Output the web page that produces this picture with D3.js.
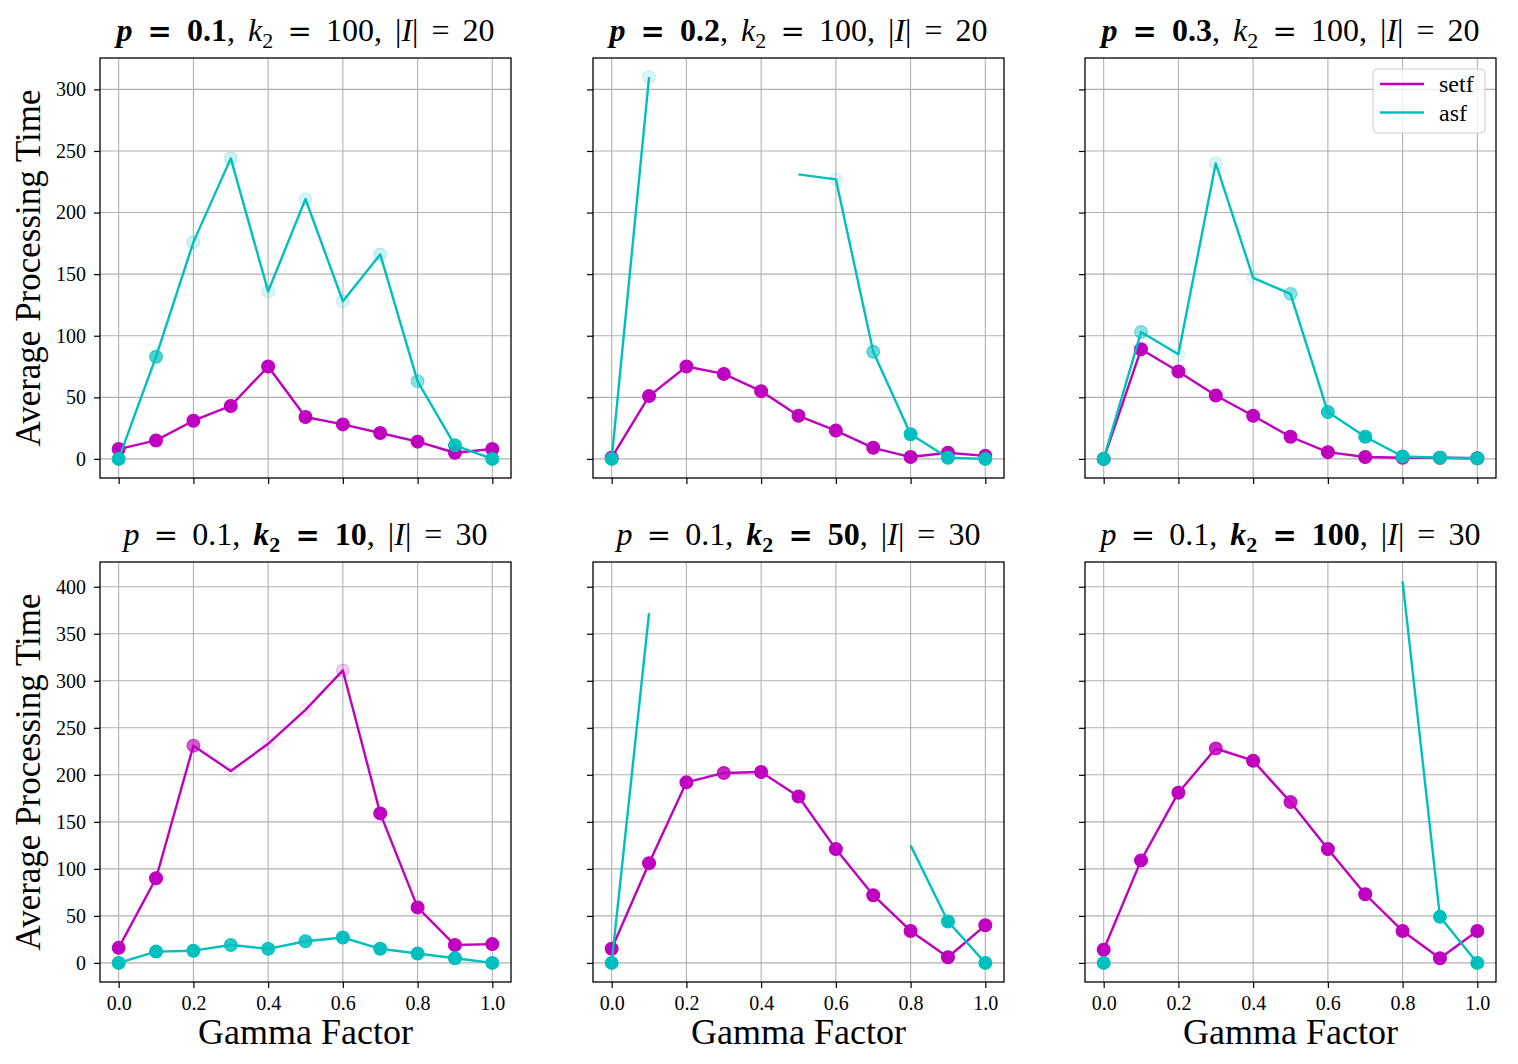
<!DOCTYPE html>
<html>
<head>
<meta charset="utf-8">
<script src="https://cdn.jsdelivr.net/npm/d3@7"></script>
<style>
  body { margin: 0; background: #fff; }
  text { font-family: "Liberation Serif", "DejaVu Serif", serif; fill: #000; }
</style>
</head>
<body>
<svg id="chart" width="1518" height="1064"></svg>
<script>
// valeurs
const gamma = [0.0, 0.1, 0.2, 0.3, 0.4, 0.5, 0.6, 0.7, 0.8, 0.9, 1.0];
const xTicks = [0.0, 0.2, 0.4, 0.6, 0.8, 1.0];
const yTicksTop = [0, 50, 100, 150, 200, 250, 300];
const yTicksBottom = [0, 50, 100, 150, 200, 250, 300, 350, 400];

// ligne du haut : k2 = 100, |I| = 20
const setfP01 = [8, 15, 31, 43, 75, 34, 28, 21, 14, 5, 8];
const asfP01 = [0, 83, 176, 244, 136, 211, 128, 166, 63, 11, 0];
const setfP02 = [1, 51, 75, 69, 55, 35, 23, 9, 1.5, 5, 2.5];
const asfP02 = [0, 310, null, null, null, 231, 227, 87, 20, 1, 0];
const setfP03 = [0, 89, 71, 51.5, 35, 18, 5.5, 1.5, 1, 1, 0.5];
const asfP03 = [0, 103, 85, 240, 147, 134, 38, 18, 2, 1, 0.5];

// ligne du bas : p = 0.1, |I| = 30
const setfK10 = [16, 90, 231, 204, 233, 269, 311, 159, 59, 19, 20];
const asfK10 = [0, 12, 13, 19, 15, 23, 27, 15, 10, 5, 0];
const setfK50 = [15, 106, 192, 202, 203, 177, 121, 72, 34, 6, 40];
const asfK50 = [0, 372, null, null, null, null, null, null, 125, 44, 0];
const setfK100 = [14, 109, 181, 228, 215, 171, 121, 73, 34, 5, 34];
const asfK100 = [0, null, null, null, null, null, null, null, 406, 49, 0];

// part des runs terminés (transparence des points)
const setfDoneP01 = [1, 1, 1, 1, 1, 1, 1, 1, 1, 1, 1];
const asfDoneP01 = [1, 0.7, 0.2, 0.2, 0.15, 0.15, 0.15, 0.2, 0.45, 0.9, 1];
const setfDoneP02 = [1, 1, 1, 1, 1, 1, 1, 1, 1, 1, 1];
const asfDoneP02 = [1, 0.15, 0, 0, 0, 0, 0.12, 0.6, 1, 1, 1];
const setfDoneP03 = [1, 1, 1, 1, 1, 1, 1, 1, 1, 1, 1];
const asfDoneP03 = [1, 0.45, 0.1, 0.15, 0.1, 0.45, 0.85, 1, 1, 1, 1];
const setfDoneK10 = [1, 1, 0.65, 0.05, 0.08, 0.08, 0.2, 1, 1, 1, 1];
const asfDoneK10 = [1, 1, 1, 0.85, 0.9, 0.85, 1, 1, 1, 1, 1];
const setfDoneK50 = [1, 1, 1, 0.85, 1, 1, 1, 1, 1, 1, 1];
const asfDoneK50 = [1, 0.03, 0, 0, 0, 0, 0, 0, 0, 1, 1];
const setfDoneK100 = [1, 1, 1, 0.85, 1, 0.9, 1, 1, 1, 1, 1];
const asfDoneK100 = [1, 0, 0, 0, 0, 0, 0, 0, 0, 1, 1];

const seriesNames = ["setf", "asf"];
const couleurs = { setf: "#bf00bf", asf: "#00bfbf" };

// titres : [texte, gras, italique, indice]
const titres = [
  [["p", 1, 1], [" = ", 1, 0], ["0.1", 1, 0], [", ", 0, 0], ["k", 0, 1], ["2", 0, 0, 1], [" = ", 0, 0], ["100, |", 0, 0], ["I", 0, 1], ["| = ", 0, 0], ["20", 0, 0]],
  [["p", 1, 1], [" = ", 1, 0], ["0.2", 1, 0], [", ", 0, 0], ["k", 0, 1], ["2", 0, 0, 1], [" = ", 0, 0], ["100, |", 0, 0], ["I", 0, 1], ["| = ", 0, 0], ["20", 0, 0]],
  [["p", 1, 1], [" = ", 1, 0], ["0.3", 1, 0], [", ", 0, 0], ["k", 0, 1], ["2", 0, 0, 1], [" = ", 0, 0], ["100, |", 0, 0], ["I", 0, 1], ["| = ", 0, 0], ["20", 0, 0]],
  [["p", 0, 1], [" = ", 0, 0], ["0.1, ", 0, 0], ["k", 1, 1], ["2", 1, 0, 1], [" = ", 1, 0], ["10", 1, 0], [", |", 0, 0], ["I", 0, 1], ["| = ", 0, 0], ["30", 0, 0]],
  [["p", 0, 1], [" = ", 0, 0], ["0.1, ", 0, 0], ["k", 1, 1], ["2", 1, 0, 1], [" = ", 1, 0], ["50", 1, 0], [", |", 0, 0], ["I", 0, 1], ["| = ", 0, 0], ["30", 0, 0]],
  [["p", 0, 1], [" = ", 0, 0], ["0.1, ", 0, 0], ["k", 1, 1], ["2", 1, 0, 1], [" = ", 1, 0], ["100", 1, 0], [", |", 0, 0], ["I", 0, 1], ["| = ", 0, 0], ["30", 0, 0]]
];

const panneaux = [
  { setf: setfP01, asf: asfP01, setfA: setfDoneP01, asfA: asfDoneP01 },
  { setf: setfP02, asf: asfP02, setfA: setfDoneP02, asfA: asfDoneP02 },
  { setf: setfP03, asf: asfP03, setfA: setfDoneP03, asfA: asfDoneP03 },
  { setf: setfK10, asf: asfK10, setfA: setfDoneK10, asfA: asfDoneK10 },
  { setf: setfK50, asf: asfK50, setfA: setfDoneK50, asfA: asfDoneK50 },
  { setf: setfK100, asf: asfK100, setfA: setfDoneK100, asfA: asfDoneK100 }
];

const svg = d3.select("#chart");
const colX = [100, 593, 1085];
const rowY = [58, 562];
const largeur = 411, hauteur = 420;

const echelleX = d3.scaleLinear().domain([-0.05, 1.05]).range([0, largeur]);

// échelle y partagée par ligne, marge de 5% comme matplotlib
function echelleLigne(row) {
  let vals = [];
  panneaux.slice(row * 3, row * 3 + 3).forEach(p => {
    vals = vals.concat(p.setf, p.asf);
  });
  vals = vals.filter(v => v != null);
  const lo = d3.min(vals), hi = d3.max(vals);
  const m = (hi - lo) * 0.05;
  return d3.scaleLinear().domain([lo - m, hi + m]).range([hauteur, 0]);
}
const echellesY = [echelleLigne(0), echelleLigne(1)];
const ticksY = [yTicksTop, yTicksBottom];
const opacite = d3.scaleLinear().domain([0, 1]).range([0, 1]).clamp(true);

panneaux.forEach((p, i) => {
  const row = Math.floor(i / 3), col = i % 3;
  const echelleY = echellesY[row];
  const g = svg.append("g").attr("transform", "translate(" + colX[col] + "," + rowY[row] + ")");

  // grille
  g.append("g").selectAll("line").data(xTicks).join("line")
    .attr("x1", d => echelleX(d)).attr("x2", d => echelleX(d))
    .attr("y1", 0).attr("y2", hauteur)
    .attr("stroke", "#b0b0b0").attr("stroke-width", 1.1);
  g.append("g").selectAll("line").data(ticksY[row]).join("line")
    .attr("y1", d => echelleY(d)).attr("y2", d => echelleY(d))
    .attr("x1", 0).attr("x2", largeur)
    .attr("stroke", "#b0b0b0").attr("stroke-width", 1.1);

  // axes
  const axeX = d3.axisBottom(echelleX).tickValues(xTicks).tickSize(6).tickPadding(8)
    .tickFormat(row == 1 ? d3.format(".1f") : "");
  const gx = g.append("g").attr("transform", "translate(0," + hauteur + ")").call(axeX);
  const axeY = d3.axisLeft(echelleY).tickValues(ticksY[row]).tickSize(6).tickPadding(8)
    .tickFormat(col == 0 ? d3.format("d") : "");
  const gy = g.append("g").call(axeY);
  [gx, gy].forEach(a => {
    a.attr("font-family", null).attr("font-size", null);
    a.select(".domain").remove();
    a.selectAll(".tick line").attr("stroke", "#000").attr("stroke-width", 1.2);
    a.selectAll(".tick text").style("font-size", "20px").attr("fill", "#000");
  });

  // séries
  const ligne = d3.line()
    .defined(d => d[1] != null)
    .x(d => echelleX(d[0]))
    .y(d => echelleY(d[1]));

  seriesNames.forEach(nom => {
    const pts = gamma.map((x, j) => [x, p[nom][j], p[nom + "A"][j]]);
    g.append("path")
      .datum(pts)
      .attr("d", ligne)
      .attr("fill", "none")
      .attr("stroke", couleurs[nom])
      .attr("stroke-width", 2.4)
      .attr("stroke-linejoin", "round");
    g.append("g").selectAll("circle")
      .data(pts.filter(d => d[1] != null))
      .join("circle")
      .attr("cx", d => echelleX(d[0]))
      .attr("cy", d => echelleY(d[1]))
      .attr("r", 6.4)
      .attr("fill", couleurs[nom])
      .attr("fill-opacity", d => opacite(d[2]))
      .attr("stroke", couleurs[nom])
      .attr("stroke-opacity", d => opacite(d[2]))
      .attr("stroke-width", 1.2);
  });

  // cadre
  g.append("rect").attr("width", largeur).attr("height", hauteur)
    .attr("fill", "none").attr("stroke", "#000").attr("stroke-width", 1.3);

  // titre (le signe = pris dans DejaVu Serif, plus large comme en TeX)
  const t = g.append("text")
    .attr("x", largeur / 2)
    .attr("y", -17)
    .attr("text-anchor", "middle")
    .style("font-size", "32px")
    .style("word-spacing", "5px")
    .attr("xml:space", "preserve");
  let enIndice = false;
  titres[i].forEach(part => {
    const s = t.append("tspan").text(part[0]);
    if (part[1]) s.style("font-weight", "bold");
    if (part[2]) s.style("font-style", "italic");
    if (part[0] == " = ") s.style("font-family", "DejaVu Serif").style("font-size", "29px");
    if (part[3]) {
      s.attr("dy", 7).style("font-size", "22px");
      enIndice = true;
    } else if (enIndice) {
      s.attr("dy", -7);
      enIndice = false;
    }
  });

  if (col == 0) {
    g.append("text")
      .attr("transform", "translate(-60," + (hauteur / 2) + ") rotate(-90)")
      .attr("text-anchor", "middle")
      .style("font-size", "35px")
      .text("Average Processing Time");
  }
  if (row == 1) {
    g.append("text")
      .attr("x", largeur / 2)
      .attr("y", hauteur + 62)
      .attr("text-anchor", "middle")
      .style("font-size", "36px")
      .text("Gamma Factor");
  }

  // légende dans le panneau en haut à droite
  if (i == 2) {
    const lg = g.append("g").attr("transform", "translate(" + (largeur - 123) + ",11)");
    lg.append("rect").attr("width", 112).attr("height", 64).attr("rx", 4)
      .attr("fill", "#fff").attr("fill-opacity", 0.8)
      .attr("stroke", "#cccccc").attr("stroke-width", 1);
    seriesNames.forEach((nom, k) => {
      lg.append("line").attr("x1", 7).attr("x2", 51)
        .attr("y1", 15 + k * 28.5).attr("y2", 15 + k * 28.5)
        .attr("stroke", couleurs[nom]).attr("stroke-width", 2.4);
      lg.append("text").attr("x", 66).attr("y", 23 + k * 28.5)
        .style("font-size", "24px").text(nom);
    });
  }
});
</script>
</body>
</html>
